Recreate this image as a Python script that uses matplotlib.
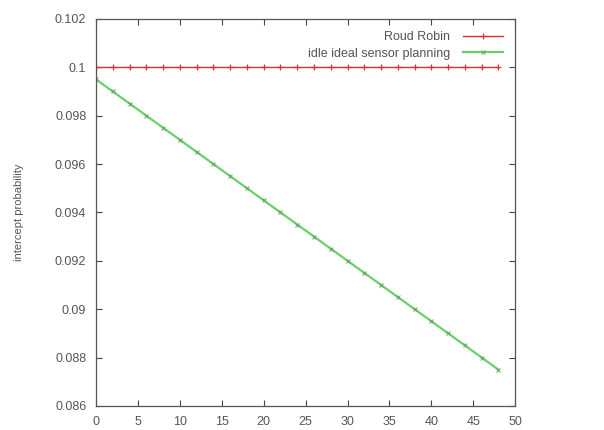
import matplotlib
matplotlib.use("Agg")
import matplotlib.pyplot as plt

plt.rcParams["font.family"] = ["Liberation Sans", "DejaVu Sans"]

steps = list(range(0, 50, 2))
round_robin = [0.1] * len(steps)
idle_ideal = [0.0995, 0.099, 0.0985, 0.098, 0.0975, 0.097, 0.0965, 0.096,
              0.0955, 0.095, 0.0945, 0.094, 0.0935, 0.093, 0.0925, 0.092,
              0.0915, 0.091, 0.0905, 0.09, 0.0895, 0.089, 0.0885, 0.088, 0.0875]

x_ticks = list(range(0, 51, 5))
y_ticks = [0.086, 0.088, 0.09, 0.092, 0.094, 0.096, 0.098, 0.1, 0.102]
y_labels = ["0.086", "0.088", "0.09", "0.092", "0.094", "0.096", "0.098", "0.1", "0.102"]

fig = plt.figure(figsize=(6.04, 4.30), dpi=100)
ax = fig.add_axes([0.159, 0.056, 0.694, 0.9])

ax.plot(steps, round_robin, color="#e03030", lw=1.0, marker="+", ms=5,
        mew=0.9, label="Roud Robin")
ax.plot(steps, idle_ideal, color="#50c850", lw=1.6, marker="x", ms=3,
        mew=0.8, mec="#6a9a6a", alpha=0.85, label="idle ideal sensor planning")

ax.set_xlim(0, 50)
ax.set_ylim(0.086, 0.102)
ax.set_xticks(x_ticks)
ax.set_yticks(y_ticks)
ax.set_yticklabels(y_labels)
ax.tick_params(direction="in", top=True, right=True, length=4, width=0.8,
               labelsize=9, labelcolor="#555555", colors="#444444", pad=7)
for s in ax.spines.values():
    s.set_color("#555555")
    s.set_linewidth(0.9)
ax.tick_params(axis="y", labelcolor="#555555")
ax.set_ylabel("intercept probability", fontsize=8, color="#555555", labelpad=22)

leg = ax.legend(loc="upper right", frameon=False, fontsize=9, markerfirst=False,
                handlelength=3.2, borderaxespad=0.6, labelspacing=0.35,
                borderpad=0.4, handletextpad=1.0)
for t in leg.get_texts():
    t.set_color("#555555")
    t.set_ha("right")

fig.savefig("out.png", dpi=100, facecolor="white")
